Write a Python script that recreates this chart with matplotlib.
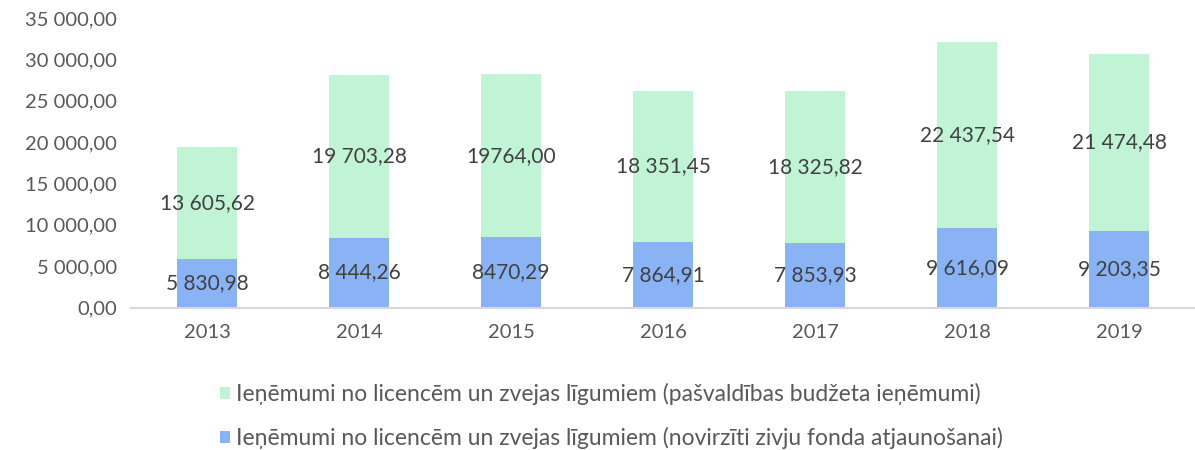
import matplotlib
matplotlib.use("Agg")
import matplotlib.pyplot as plt
from matplotlib.ticker import FuncFormatter

plt.rcParams['font.family'] = ['Lato', 'DejaVu Sans']

years = ['2013', '2014', '2015', '2016', '2017', '2018', '2019']
fund = [5830.98, 8444.26, 8470.29, 7864.91, 7853.93, 9616.09, 9203.35]
budget = [13605.62, 19703.28, 19764.00, 18351.45, 18325.82, 22437.54, 21474.48]
# 2015 labels were written without a thousands separator
grouped = [True, True, False, True, True, True, True]

label_budget = 'Ieņēmumi no licencēm un zvejas līgumiem (pašvaldības budžeta ieņēmumi)'
label_fund = 'Ieņēmumi no licencēm un zvejas līgumiem (novirzīti zivju fonda atjaunošanai)'

green = '#C1F4D4'
blue = '#8AB3F6'


def lv_num(v, sep=True):
    s = f"{v:,.2f}"
    s = s.replace(',', ' ' if sep else '').replace('.', ',')
    return s


fig = plt.figure(figsize=(11.95, 4.5), dpi=100)
ax = fig.add_axes([131 / 1195, 142.5 / 450, 1 - 131 / 1195, 289.5 / 450])

x = range(len(years))
b1 = ax.bar(x, fund, width=0.4, color=blue, label=label_fund)
b2 = ax.bar(x, budget, width=0.4, bottom=fund, color=green, label=label_budget)

for i in x:
    ax.text(i, fund[i] / 2, lv_num(fund[i], grouped[i]), ha='center', va='center',
            fontsize=15, color='#404040')
    ax.text(i, fund[i] + budget[i] / 2, lv_num(budget[i], grouped[i]), ha='center',
            va='center', fontsize=15, color='#404040')

ax.set_xlim(-0.5, 6.5)
ax.set_ylim(0, 35000)
ax.set_yticks(range(0, 35001, 5000))
ax.yaxis.set_major_formatter(FuncFormatter(lambda v, p: lv_num(v)))
ax.set_xticks(list(x))
ax.set_xticklabels(years)
ax.tick_params(length=0, labelsize=14.5, colors='#595959')
ax.tick_params(axis='y', pad=10)
ax.tick_params(axis='x', pad=12)

for s in ['top', 'right', 'left']:
    ax.spines[s].set_visible(False)
ax.spines['bottom'].set_color('#D9D9D9')
ax.spines['bottom'].set_linewidth(1.5)

leg = fig.legend([b2, b1], [label_budget, label_fund], loc='upper left',
                 bbox_to_anchor=(220 / 1195, 1 - 383 / 450), frameon=False,
                 fontsize=16.5, handlelength=0.45, handleheight=0.45,
                 handletextpad=0.25, labelspacing=0.95, borderpad=0, borderaxespad=0)
for t in leg.get_texts():
    t.set_color('#595959')

fig.savefig('out.png', dpi=100)
